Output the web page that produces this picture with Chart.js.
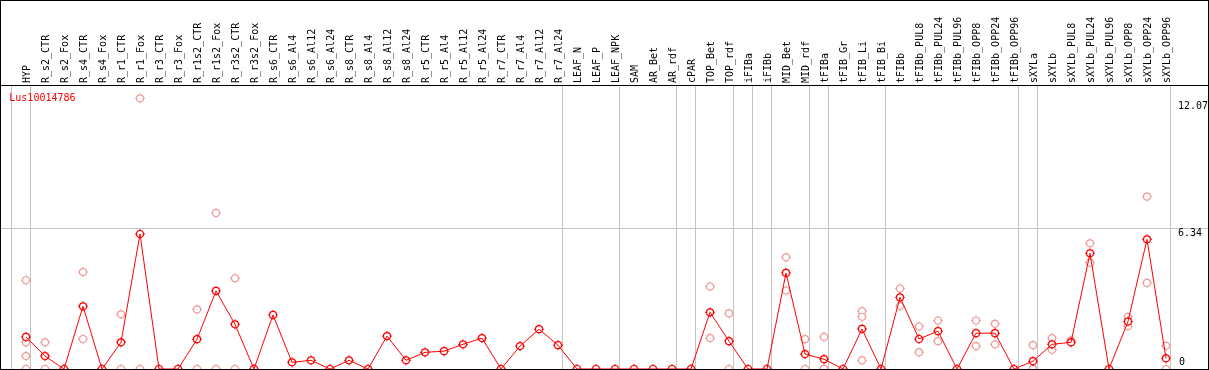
<!DOCTYPE html>
<html>
<head>
<meta charset="utf-8">
<script src="https://cdn.jsdelivr.net/npm/chart.js@4.4.1/dist/chart.umd.min.js"></script>
<style>
html,body{margin:0;padding:0;background:#fff;}
#wrap{position:absolute;left:0;top:0;width:1207px;height:368px;border:1px solid #000;}
canvas{display:block;}
</style>
</head>
<body>
<div id="wrap"><canvas id="c" width="1207" height="368"></canvas></div>
<script>
const geneName = 'Lus10014786';

const categories = [
  'HYP','R_s2_CTR','R_s2_Fox','R_s4_CTR','R_s4_Fox','R_r1_CTR','R_r1_Fox','R_r3_CTR','R_r3_Fox',
  'R_r1s2_CTR','R_r1s2_Fox','R_r3s2_CTR','R_r3s2_Fox','R_s6_CTR','R_s6_Al4','R_s6_Al12','R_s6_Al24',
  'R_s8_CTR','R_s8_Al4','R_s8_Al12','R_s8_Al24','R_r5_CTR','R_r5_Al4','R_r5_Al12','R_r5_Al24',
  'R_r7_CTR','R_r7_Al4','R_r7_Al12','R_r7_Al24','LEAF_N','LEAF_P','LEAF_NPK','SAM','AR_Bet','AR_rdf',
  'cPAR','TOP_Bet','TOP_rdf','iFIBa','iFIBb','MID_Bet','MID_rdf','tFIBa','tFIB_Gr','tFIB_Li','tFIB_Bi',
  'tFIBb','tFIBb_PUL8','tFIBb_PUL24','tFIBb_PUL96','tFIBb_OPP8','tFIBb_OPP24','tFIBb_OPP96',
  'sXYLa','sXYLb','sXYLb_PUL8','sXYLb_PUL24','sXYLb_PUL96','sXYLb_OPP8','sXYLb_OPP24','sXYLb_OPP96'
];

const means = [
  1.44, 0.58, 0, 2.82, 0, 1.20, 6.07, 0, 0,
  1.34, 3.51, 2.01, 0, 2.43, 0.30, 0.39, 0,
  0.39, 0, 1.48, 0.39, 0.75, 0.80, 1.11, 1.39,
  0, 1.03, 1.79, 1.07, 0, 0, 0, 0, 0, 0,
  0, 2.55, 1.25, 0, 0, 4.32, 0.67, 0.44, 0, 1.80, 0,
  3.22, 1.35, 1.70, 0, 1.61, 1.61, 0,
  0.35, 1.11, 1.20, 5.20, 0, 2.14, 5.83, 0.48
];

const replicates = [
  [3.99,1.20,0.58,0],[1.20,0],[],[4.36,1.35],[],[2.46,0],[12.17,0],[],[],
  [2.68,0],[7.02,0],[4.08,0],[],[],[],[],[],
  [],[],[],[],[],[],[],[],
  [],[],[],[],[],[],[],[],[],[],
  [],[3.71,1.39],[2.50,0],[],[],[5.02,3.53],[1.34,0],[1.44,0,0],[],[2.60,2.35,0.39],[],
  [3.62,2.83],[1.91,0.75],[2.18,1.25],[],[2.18,1.03],[2.03,1.11],[],
  [1.07,0,0],[1.39,0.86],[1.29,1.22],[5.65,4.78],[],[2.35,1.93],[7.75,3.87],[1.04,0]
];

const yTicks = [0, 6.34, 12.07];

// a divider is drawn after each of these categories (plus one before the first)
const groupEnds = ['HYP','R_r7_Al24','LEAF_NPK','AR_rdf','cPAR','TOP_rdf','iFIBa','iFIBb',
  'MID_rdf','tFIBa','tFIB_Bi','tFIBb_OPP96','sXYLa','sXYLb_OPP96'];

const FONT = {family: 'DejaVu Sans Mono', size: 10};
const X_MIN = -1.3158, X_MAX = 62.21, Y_MAX = 12.77;
const RED = '#ff0000', PINK = '#f09c9c';
const dividerPos = [-1].concat(groupEnds.map(n => categories.indexOf(n))).map(i => i + 0.247);

const meanPts = means.map((v, i) => ({x: i, y: v}));
const repPts = replicates.flatMap((r, i) => r.map(v => ({x: i, y: v})));

function zeroPad(s) {
  s.paddingLeft = 0; s.paddingRight = 0; s.paddingTop = 0; s.paddingBottom = 0;
}

function ring(data, color, order) {
  return {data, showLine: false, pointStyle: 'circle', pointRadius: 3.5, pointBorderWidth: 1.2,
    pointBorderColor: color, pointBackgroundColor: '#ffffff', borderColor: color, order};
}
function ticksMark(data, color, order) {
  return {data, showLine: false, pointStyle: 'cross', pointRadius: 5, pointBorderWidth: 1,
    pointBorderColor: color, borderColor: color, order};
}

const geneLabel = {
  id: 'geneLabel',
  afterDraw(chart) {
    const {ctx, chartArea} = chart;
    ctx.save();
    ctx.font = '10px "DejaVu Sans Mono"';
    ctx.fillStyle = RED;
    ctx.textBaseline = 'alphabetic';
    ctx.textAlign = 'left';
    ctx.fillText(geneName, chartArea.left + 8.3, chartArea.top + 15.7);
    ctx.restore();
  }
};

new Chart(document.getElementById('c'), {
  type: 'line',
  data: {
    datasets: [
      {label: geneName, data: meanPts, borderColor: RED, borderWidth: 1, pointRadius: 0, tension: 0, order: 0},
      ring(meanPts, RED, 1),
      ticksMark(meanPts, RED, 2),
      ring(repPts, PINK, 3),
      ticksMark(repPts, PINK, 4)
    ]
  },
  plugins: [geneLabel],
  options: {
    responsive: false,
    animation: false,
    devicePixelRatio: 1,
    layout: {padding: 0, autoPadding: false},
    plugins: {
      tooltip: {enabled: false},
      legend: {display: false}
    },
    scales: {
      x: {
        type: 'linear', position: 'top', min: X_MIN, max: X_MAX, bounds: 'data',
        afterBuildTicks: s => { s.ticks = categories.map((c, i) => ({value: i})); },
        afterFit: s => { s.height = 84; zeroPad(s); },
        ticks: {
          autoSkip: false, minRotation: 90, maxRotation: 90, padding: 2, labelOffset: 13,
          color: '#000', font: FONT,
          callback: v => categories[v]
        },
        grid: {drawOnChartArea: false, drawTicks: false},
        border: {display: true, color: '#000', width: 1}
      },
      xg: {
        type: 'linear', position: 'bottom', min: X_MIN, max: X_MAX, bounds: 'data',
        afterBuildTicks: s => { s.ticks = dividerPos.map(v => ({value: v})); },
        afterFit: s => { s.height = 0; zeroPad(s); },
        ticks: {display: false},
        grid: {color: '#c4c4c4', lineWidth: 1, drawTicks: false},
        border: {display: false}
      },
      y: {
        type: 'linear', position: 'right', min: 0, max: Y_MAX, bounds: 'data',
        afterBuildTicks: s => { s.ticks = yTicks.map(v => ({value: v})); },
        afterFit: s => { s.width = 0; zeroPad(s); },
        ticks: {
          mirror: true, crossAlign: 'far', padding: 0, labelOffset: 5.5,
          color: '#000', font: FONT,
          callback: v => (v === yTicks[0] ? '' : String(v))
        },
        grid: {
          drawTicks: false,
          color: c => (c.tick && c.tick.value > yTicks[0] && c.tick.value < yTicks[yTicks.length - 1]) ? '#c4c4c4' : 'rgba(0,0,0,0)'
        },
        border: {display: false}
      },
      y0: {
        type: 'linear', position: 'right', min: 0, max: Y_MAX, bounds: 'data',
        afterBuildTicks: s => { s.ticks = [{value: yTicks[0]}]; },
        afterFit: s => { s.width = 0; zeroPad(s); },
        ticks: {
          mirror: true, crossAlign: 'far', padding: -23, labelOffset: -7,
          color: '#000', font: FONT,
          callback: v => String(v)
        },
        grid: {display: false},
        border: {display: false}
      }
    }
  }
});
</script>
</body>
</html>
